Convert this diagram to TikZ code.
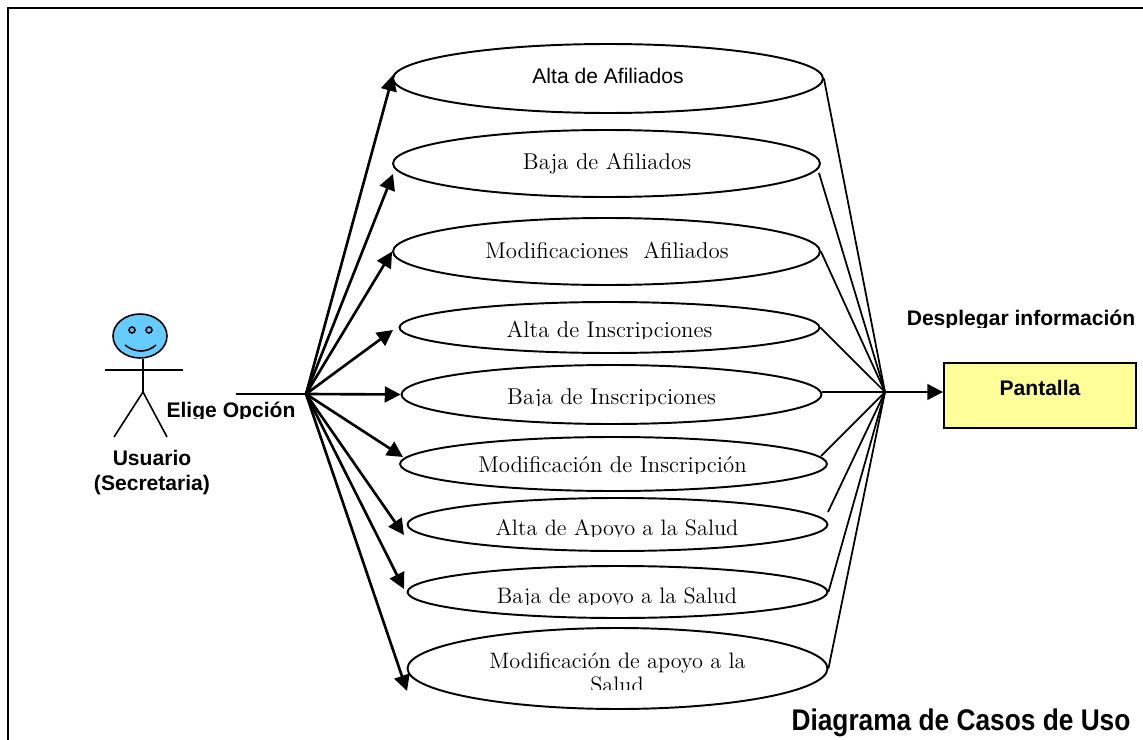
\documentclass[tikz,border=0pt]{standalone}
\usepackage{fontspec}
\usepackage{tikz}
\usetikzlibrary{shapes.geometric,arrows.meta}
\newfontfamily\arialfont{Liberation Sans}
\newfontfamily\titlefont[FakeStretch=.88]{Liberation Sans}
\definecolor{headblue}{HTML}{66CCFF}
\definecolor{screenyellow}{HTML}{FFFF99}
\tikzset{
  usecase/.style={ellipse, draw, fill=white, line width=1.1pt, inner sep=0pt, minimum width=#1},
  usecase/.default=8.4cm,
  casetext/.style={anchor=base, inner sep=0pt, font=\fontsize{13}{15}\selectfont},
  saludtext/.style={casetext, font=\fontsize{12.7}{15}\selectfont},
  boldtext/.style={anchor=base, inner sep=0pt, font=\arialfont\bfseries\fontsize{12}{14}\selectfont},
  chooseline/.style={line width=1.5pt, -{Triangle[length=9pt,width=9pt]}},
  showline/.style={line width=1pt},
  stickline/.style={line width=.9pt},
}
% label whose lower part is cut off at a given height
\newcommand{\cutlabel}[6]{\begin{scope}\clip (0,0) rectangle (1143,#5); \node[#1] (#2) at (#3,#4) {#6};\end{scope}}
\begin{document}
\begin{tikzpicture}[x=.02cm,y=-.02cm]
\useasboundingbox (0,0) rectangle (1143,740);
\draw [line width=1.2pt] (8,740) -- (8,8) -- (1143,8);

% use cases
\node[usecase=8.6cm, minimum height=1.38cm] (altaafi) at (608,78.5) {};
\node[usecase=8.54cm, minimum height=1.34cm] (bajaafi) at (606.5,163.5) {};
\node[usecase=8.54cm, minimum height=1.34cm] (modafi) at (606.5,251.5) {};
\node[usecase, minimum height=1.02cm] (altains) at (609.5,327.5) {};
\node[usecase, minimum height=1.18cm] (bajains) at (611.5,394.5) {};
\node[usecase=8.54cm, minimum height=1.08cm] (modins) at (613.5,464) {};
\node[usecase, minimum height=1.06cm] (altasal) at (617.5,524.5) {};
\node[usecase, minimum height=1.04cm] (bajasal) at (617.5,592) {};
\node[usecase, minimum height=1.62cm] (modsal) at (617.5,668.5) {};

\node[casetext, font=\arialfont\fontsize{12}{14}\selectfont] (altaafitext) at (608,83.5) {Alta de Afiliados};
\node[casetext] (bajaafitext) at (607,169.5) {Baja de Afiliados};
\node[casetext] (modafitext) at (607,258) {Modificaciones\ \ Afiliados};
\cutlabel{casetext}{altainstext}{609.5}{337}{338.5}{Alta de Inscripciones}
\cutlabel{casetext}{bajainstext}{611.5}{404}{405.5}{Baja de Inscripciones}
\cutlabel{casetext}{modinstext}{612.5}{472}{473.5}{Modificación de Inscripción}
\cutlabel{saludtext}{altasaltext}{617}{535}{536}{Alta de Apoyo a la Salud}
\cutlabel{saludtext}{bajasaltext}{617}{603}{604}{Baja de apoyo a la Salud}
\node[saludtext] (modsaltext) at (617.5,668) {Modificación de apoyo a la};
\cutlabel{saludtext}{modsaltexttwo}{617}{692}{689.5}{Salud}

% actor
\node[ellipse, draw, fill=headblue, stickline, inner sep=0pt, minimum width=1.08cm, minimum height=.88cm] (head) at (140,336) {};
\node[circle, draw, stickline, inner sep=0pt, minimum size=.12cm] (lefteye) at (132,330) {};
\node[circle, draw, stickline, inner sep=0pt, minimum size=.12cm] (righteye) at (149,330) {};
\draw [stickline] (125,345) .. controls (135,353) and (147,353) .. (156,345);
\coordinate (hip) at (143,392);
\coordinate (lefthand) at (105,370);
\coordinate (righthand) at (183,370);
\coordinate (leftfoot) at (114,437);
\coordinate (rightfoot) at (167,437);
\draw [stickline] (head.south -| hip) -- (hip);
\draw [stickline] (lefthand) -- (righthand);
\draw [stickline] (leftfoot) -- (hip) -- (rightfoot);

\node[boldtext] (usuario) at (152,465) {Usuario};
\node[boldtext] (secretaria) at (152,490) {(Secretaria)};
\cutlabel{boldtext}{elige}{231}{417}{418}{Elige Opción}
\cutlabel{boldtext}{desplegar}{1021}{325}{327}{Desplegar información}

% screen
\node[draw, fill=screenyellow, line width=1.1pt, minimum width=3.84cm, minimum height=1.3cm] (pantalla) at (1040,395.5) {};
\node[boldtext] (pantallatext) at (1040,395) {Pantalla};
\node[boldtext, font=\titlefont\bfseries\fontsize{17}{20}\selectfont] (titulo) at (961,730) {Diagrama de Casos de Uso};

% connectors
\coordinate (start) at (236,394);
\coordinate (hubleft) at (306,394);
\coordinate (hubright) at (885,392);
\coordinate (altaafiin) at (393,75);
\coordinate (bajaafiin) at (393,174);
\coordinate (altainsin) at (393,330);
\coordinate (modinsin) at (403,457);
\coordinate (altasalin) at (404,535);
\coordinate (bajasalin) at (404,589);
\coordinate (modsalin) at (407,691);
\draw [line width=1.7pt] (start) -- (hubleft);
\draw [chooseline] (hubleft) -- (altaafiin);
\draw [chooseline] (hubleft) -- (bajaafiin);
\draw [chooseline] (hubleft) -- (modafi.west);
\draw [chooseline] (hubleft) -- (altainsin);
\draw [chooseline] (hubleft) -- (bajains.west);
\draw [chooseline] (hubleft) -- (modinsin);
\draw [chooseline] (hubleft) -- (altasalin);
\draw [chooseline] (hubleft) -- (bajasalin);
\draw [chooseline] (hubleft) -- (modsalin);

\coordinate (bajaafiout) at (819,173);
\coordinate (bajainsout) at (822,392);
\coordinate (modinsout) at (821,456);
\coordinate (altasalout) at (828,512);
\draw [showline] (altaafi.east) -- (hubright);
\draw [showline] (bajaafiout) -- (hubright);
\draw [showline] (modafi.east) -- (hubright);
\draw [showline] (altains.east) -- (hubright);
\draw [line width=1.2pt] (bajainsout) -- (hubright);
\draw [showline] (modinsout) -- (hubright);
\draw [showline] (altasalout) -- (hubright);
\draw [showline] (bajasal.east) -- (hubright);
\draw [showline] (modsal.east) -- (hubright);
\draw [line width=1.2pt, -{Triangle[length=9pt,width=9pt]}] (hubright) -- (pantalla.west |- hubright);
\end{tikzpicture}
\end{document}
